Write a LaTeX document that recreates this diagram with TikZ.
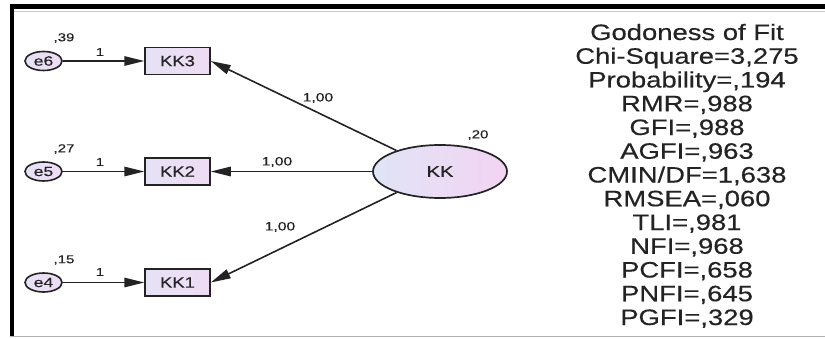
\documentclass[tikz,border=0pt]{standalone}
\usepackage{fontspec}
\usepackage{graphicx}
\setmainfont{Liberation Sans}[FakeBold=0.35]
\usetikzlibrary{arrows.meta,shapes.geometric}
\definecolor{fillA}{RGB}{224,228,246}
\definecolor{fillB}{RGB}{243,212,242}
\definecolor{boxA}{RGB}{230,226,246}
\definecolor{boxB}{RGB}{238,220,244}
\definecolor{ink}{RGB}{35,35,35}
% horizontally widened text
\newcommand\widetxt[2][1.23]{\scalebox{#1}[1]{#2}}

\begin{document}
\begin{tikzpicture}[x=1pt,y=1pt,
  obs/.style={draw=ink, line width=1.5pt, rectangle, minimum width=65pt,
    minimum height=27pt, inner sep=0pt, left color=boxA, right color=boxB,
    text=ink, font=\fontsize{15}{15}\selectfont},
  err/.style={draw=ink, line width=1.6pt, ellipse, minimum width=37pt,
    minimum height=19pt, inner sep=0pt, left color=boxA, right color=boxB,
    text=ink, font=\fontsize{13.5}{13.5}\selectfont},
  lat/.style={draw=ink, line width=1.7pt, ellipse, minimum width=134pt,
    minimum height=53pt, inner sep=0pt, left color=fillA, right color=fillB,
    text=ink, font=\fontsize{15.5}{15.5}\selectfont},
  arr/.style={draw=ink, line width=1.6pt, -{Triangle[length=20pt,width=9.5pt]}},
  small/.style={text=ink, inner sep=0pt, font=\fontsize{11.5}{11.5}\selectfont},
  coef/.style={text=ink, inner sep=0pt, font=\fontsize{12}{12}\selectfont},
  fitline/.style={text=ink, inner sep=0pt, anchor=base, font=\fontsize{22.3}{22.3}\selectfont}
]
\useasboundingbox (0,0) rectangle (825,338);

% frame
\draw[line width=5pt] (10,331.5) -- (825,331.5);
\draw[gray!45, line width=1pt] (14,326) -- (825,326);
\draw[line width=4pt] (12,334) -- (12,1.5);
\draw[gray!60, line width=1.5pt] (10,1.5) -- (825,1.5);

% observed indicators
\node[obs] (KK3) at (177.5,277) {\widetxt{KK3}};
\node[obs] (KK2) at (177.5,166.5) {\widetxt{KK2}};
\node[obs] (KK1) at (177.5,55.5) {\widetxt{KK1}};

% error terms
\node[err] (e6) at (43.5,277) {\widetxt[1.3]{e6}};
\node[err] (e5) at (43.5,166.5) {\widetxt[1.3]{e5}};
\node[err] (e4) at (43.5,55.5) {\widetxt[1.3]{e4}};

% latent factor
\node[lat] (KK) at (440,166.5) {\widetxt[1.3]{KK}};

% paths
\draw[arr] (e6) -- (KK3);
\draw[arr] (e5) -- (KK2);
\draw[arr] (e4) -- (KK1);
\draw[arr] (KK) -- (KK3.east);
\draw[arr] (KK) -- (KK2);
\draw[arr] (KK) -- (KK1.east);

% variances and weights
\node[small] (v6) at (64,300) {\widetxt[1.3]{,39}};
\node[small] (v5) at (64,189) {\widetxt[1.3]{,27}};
\node[small] (v4) at (64,78) {\widetxt[1.3]{,15}};
\node[small] (vKK) at (478,203) {\widetxt[1.3]{,20}};
\node[small] (w6) at (100,286) {\widetxt[1.3]{1}};
\node[small] (w5) at (100,176) {\widetxt[1.3]{1}};
\node[small] (w4) at (100,66) {\widetxt[1.3]{1}};
\node[coef] (l3) at (318,240) {\widetxt[1.3]{1,00}};
\node[coef] (l2) at (277,176) {\widetxt[1.3]{1,00}};
\node[coef] (l1) at (280,111) {\widetxt[1.3]{1,00}};

% fit statistics
\foreach [count=\i from 0] \t in {Godoness of Fit, Chi-Square=3{,}275,
  Probability={,}194, RMR={,}988, GFI={,}988, AGFI={,}963, CMIN/DF=1{,}638,
  RMSEA={,}060, TLI={,}981, NFI={,}968, PCFI={,}658, PNFI={,}645, PGFI={,}329}
  \node[fitline] (fit\i) at (687,298-23.75*\i) {\widetxt{\t}};

\end{tikzpicture}
\end{document}
